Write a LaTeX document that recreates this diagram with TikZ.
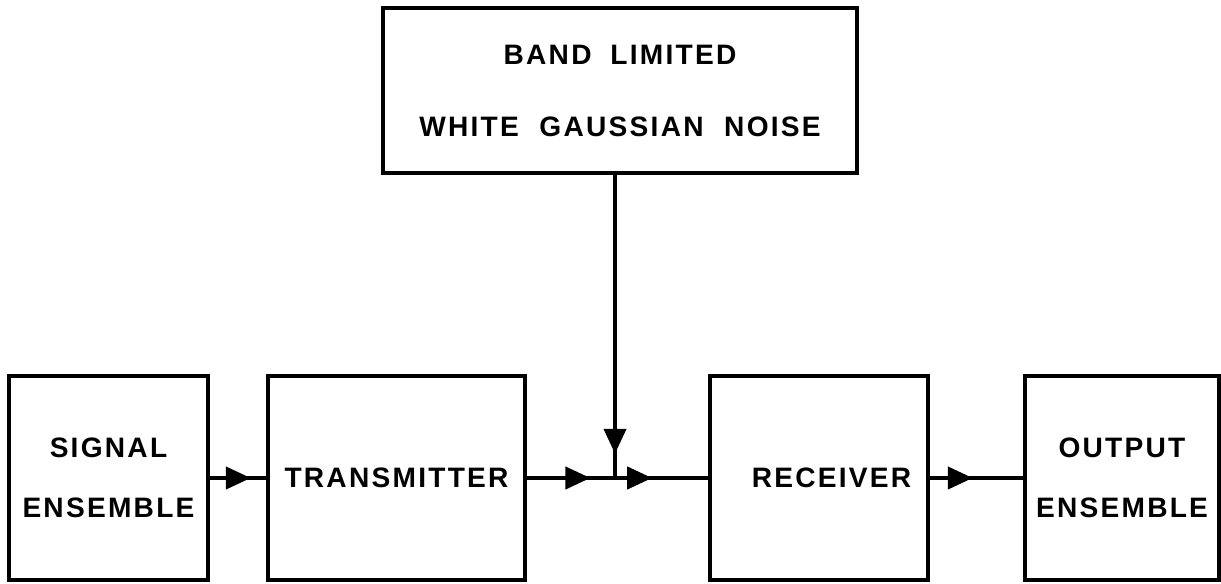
\documentclass[tikz,border=0pt]{standalone}
\usepackage{fontspec}
\setmainfont{Liberation Sans}[LetterSpace=8]
\usepackage{tikz}
\usetikzlibrary{positioning,arrows.meta,decorations.markings}

\begin{document}
\begin{tikzpicture}[
  blk/.style={draw,line width=2.4pt,minimum height=4.08cm,inner sep=0pt,align=center,
    font=\fontsize{16}{34}\selectfont\bfseries},
  wire/.style={line width=2.4pt},
  mid/.style={postaction={decorate},decoration={markings,
    mark=at position #1 with {\arrow{Triangle[length=5mm,width=4.4mm]}}}}]
\useasboundingbox (0,0) rectangle (24.42,11.66);
% chain of blocks
\node[blk,minimum width=3.98cm] (sig) at (2.17,2.1) {SIGNAL\\ENSEMBLE};
\node[blk,minimum width=5.14cm] (tx) at (7.93,2.1) {TRANSMITTER};
\node[blk,minimum width=4.36cm] (rx) at (16.38,2.1) {\hspace*{0.5cm}RECEIVER};
\node[blk,minimum width=3.88cm] (out) at (22.44,2.1) {OUTPUT\\ENSEMBLE};
% noise source
\node[blk,minimum width=9.48cm,minimum height=3.3cm] (noise) at (12.4,9.85)
  {BAND\hspace{5pt} LIMITED\\[7pt]WHITE\hspace{6pt} GAUSSIAN\hspace{6pt} NOISE};
\coordinate (j) at (12.3,2.1);
\draw[wire,mid=0.73] (sig) -- (tx);
\draw[wire,mid=0.72] (tx) -- (j);
\draw[wire,mid=0.4] (j) -- (rx);
\draw[wire,mid=0.46] (rx) -- (out);
\draw[wire,mid=0.92] (noise.south -| j) -- (j);
\end{tikzpicture}
\end{document}
